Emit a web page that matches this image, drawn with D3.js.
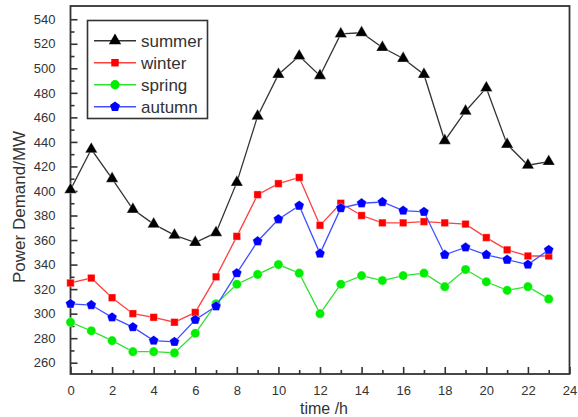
<!DOCTYPE html>
<html>
<head>
<meta charset="utf-8">
<script src="https://cdn.jsdelivr.net/npm/d3@7"></script>
<style>
  body { margin: 0; background: #fff; }
  text { font-family: "Liberation Sans", Arial, sans-serif; fill: #333; }
</style>
</head>
<body>
<div id="chart"></div>
<script>
var hours = d3.range(0, 24);
var summer = [401, 434, 410, 385, 373, 364, 358, 366, 407, 461, 495, 510, 494, 528, 529, 517, 508, 495, 441, 465, 484, 438, 421, 424];
var winter = [325, 329, 313, 300, 297, 293, 301, 330, 363, 397, 406, 411, 372, 390, 380, 374, 374, 375, 374, 373, 362, 352, 347, 347];
var spring = [293, 286, 278, 269, 269, 268, 284, 308, 324, 332, 340, 333, 300, 324, 331, 327, 331, 333, 322, 336, 326, 319, 322, 312];
var autumn = [308, 307, 297, 289, 278, 277, 295, 306, 333, 359, 377, 388, 349, 386, 390, 391, 384, 383, 348, 354, 348, 344, 340, 352];
var xTicks = [0, 2, 4, 6, 8, 10, 12, 14, 16, 18, 20, 22, 24];
var yTicks = [260, 280, 300, 320, 340, 360, 380, 400, 420, 440, 460, 480, 500, 520, 540];

function pentagon(r) {
    'use strict';
    var pts = d3.range(5).map(function (i) {
        var a = -Math.PI / 2 + i * 2 * Math.PI / 5;
        return [r * Math.cos(a), r * Math.sin(a)];
    });
    return 'M' + pts.join('L') + 'Z';
}

var series = [
    {name: 'summer', values: summer, line: '#333333', fill: '#000000', marker: d3.symbol(d3.symbolTriangle, 66)()},
    {name: 'winter', values: winter, line: '#ff4040', fill: '#ff0000', marker: d3.symbol(d3.symbolSquare, 56)()},
    {name: 'spring', values: spring, line: '#30e030', fill: '#00ee00', marker: d3.symbol(d3.symbolCircle, 66)()},
    {name: 'autumn', values: autumn, line: '#4050ff', fill: '#0000ff', marker: pentagon(5.2)}
];

function init() {
    'use strict';
    var svg = d3.select('#chart').append('svg')
        .attr('width', 578).attr('height', 417);

    var x = d3.scaleLinear().domain([0, 24]).range([70.5, 569.5]);
    var y = d3.scaleLinear().domain([250.8, 550.8]).range([374, 6]);

    // frame
    svg.append('rect')
        .attr('x', x(0)).attr('y', y(550.8))
        .attr('width', x(24) - x(0)).attr('height', y(250.8) - y(550.8))
        .attr('fill', 'none').attr('stroke', '#333').attr('stroke-width', 1.8);

    // x axis, ticks inward
    svg.append('g').attr('transform', 'translate(0,' + y(250.8) + ')')
        .call(d3.axisBottom(x).tickValues(xTicks).tickSize(-7).tickPadding(12).tickFormat(d3.format('d')));
    svg.append('g').attr('transform', 'translate(0,' + y(250.8) + ')')
        .call(d3.axisBottom(x).tickValues(d3.range(1, 24, 2)).tickSize(-4).tickFormat(''));

    svg.append('g').attr('transform', 'translate(' + x(0) + ',0)')
        .call(d3.axisLeft(y).tickValues(yTicks).tickSize(-7).tickPadding(15).tickFormat(d3.format('d')));
    svg.append('g').attr('transform', 'translate(' + x(0) + ',0)')
        .call(d3.axisLeft(y).tickValues(d3.range(270, 550, 20)).tickSize(-4).tickFormat(''));

    svg.selectAll('.domain').remove();
    svg.selectAll('.tick line').attr('stroke', '#333').attr('stroke-width', 1.6);
    svg.selectAll('.tick text').style('font-size', '13px').attr('fill', '#333');

    // titles
    svg.append('text').attr('x', 324).attr('y', 414)
        .attr('text-anchor', 'middle').style('font-size', '16px').text('time /h');
    svg.append('text')
        .attr('transform', 'translate(25,' + 283 + ') rotate(-90)')
        .attr('text-anchor', 'start').style('font-size', '17px').text('Power Demand/MW');

    var line = d3.line()
        .x(function (d, i) { return x(hours[i]); })
        .y(function (d) { return y(d); });

    series.forEach(function (s) {
        var g = svg.append('g');
        g.append('path').datum(s.values).attr('d', line)
            .attr('fill', 'none').attr('stroke', s.line).attr('stroke-width', 1.3);
        g.selectAll('path.m').data(s.values).enter().append('path')
            .attr('class', 'm')
            .attr('d', s.marker)
            .attr('transform', function (d, i) { return 'translate(' + x(hours[i]) + ',' + y(d) + ')'; })
            .attr('fill', s.fill).attr('stroke', '#fff').attr('stroke-width', 0.6).attr('stroke-opacity', 0.6);
    });

    // legend
    var leg = svg.append('g');
    leg.append('rect').attr('x', 87.5).attr('y', 20.5).attr('width', 120).attr('height', 98)
        .attr('fill', '#fff').attr('stroke', '#333').attr('stroke-width', 1.6);
    series.forEach(function (s, i) {
        var ly = 40.7 + i * 22;
        leg.append('line').attr('x1', 94).attr('x2', 136).attr('y1', ly).attr('y2', ly)
            .attr('stroke', s.line).attr('stroke-width', 1.5);
        leg.append('path').attr('d', s.marker)
            .attr('transform', 'translate(115,' + ly + ')').attr('fill', s.fill);
        leg.append('text').attr('x', 141).attr('y', ly + 6)
            .style('font-size', '17px').text(s.name);
    });
}

window.onload = init;
</script>
</body>
</html>
